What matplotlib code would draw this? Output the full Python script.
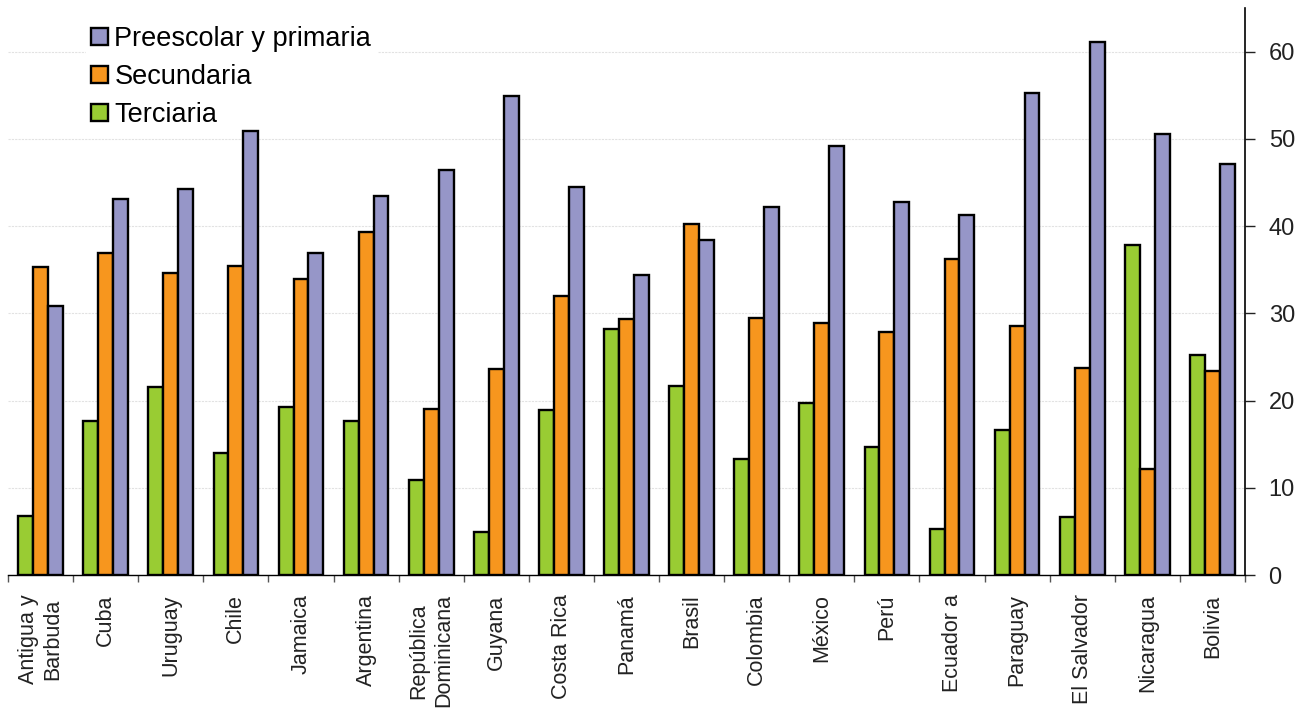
import matplotlib.pyplot as plt
import numpy as np

plt.rcParams['font.family'] = ['Liberation Sans', 'DejaVu Sans']

countries = ["Antigua y\nBarbuda", "Cuba", "Uruguay", "Chile", "Jamaica", "Argentina",
             "República\nDominicana", "Guyana", "Costa Rica", "Panamá", "Brasil", "Colombia",
             "México", "Perú", "Ecuador a", "Paraguay", "El Salvador", "Nicaragua", "Bolivia"]
terciaria = [6.8, 17.6, 21.6, 14.0, 19.3, 17.6, 10.9, 4.9, 18.9, 28.2, 21.7, 13.3,
             19.7, 14.7, 5.3, 16.6, 6.7, 37.8, 25.2]
secundaria = [35.3, 36.9, 34.6, 35.4, 33.9, 39.3, 19.0, 23.6, 32.0, 29.3, 40.2, 29.5,
              28.9, 27.8, 36.2, 28.5, 23.7, 12.1, 23.4]
primaria = [30.8, 43.1, 44.3, 50.9, 36.9, 43.4, 46.4, 54.9, 44.5, 34.4, 38.4, 42.2,
            49.2, 42.8, 41.3, 55.3, 61.1, 50.6, 47.1]

green = '#99CC33'
orange = '#F7961E'
purple = '#9696C8'

fig = plt.figure(figsize=(13.02, 7.09), dpi=100)
ax = fig.add_axes([8/1302, 1 - 575/709, (1245 - 8)/1302, (575 - 8)/709])

x = np.arange(len(countries))
w = 0.229
ax.bar(x - w, terciaria, w, color=green, edgecolor='black', linewidth=1.7, label='Terciaria', zorder=3)
ax.bar(x, secundaria, w, color=orange, edgecolor='black', linewidth=1.7, label='Secundaria', zorder=3)
ax.bar(x + w, primaria, w, color=purple, edgecolor='black', linewidth=1.7,
       label='Preescolar y primaria', zorder=3)

ax.set_xlim(-0.5, len(countries) - 0.5)
ax.set_ylim(0, 65)
ax.set_yticks(range(0, 61, 10))
ax.yaxis.tick_right()
ax.tick_params(axis='y', labelsize=17, length=7, width=1, pad=10, colors='#222222')
ax.grid(axis='y', color='#e2e2e2', linestyle=(0, (2, 1)), linewidth=0.8, zorder=0)

ax.set_xticks(x)
ax.set_xticklabels(countries, rotation=90, fontsize=15.5, va='top', ha='center',
                   multialignment='center', color='#222222')
ax.tick_params(axis='x', which='major', length=0, pad=14)
ax.set_xticks(np.arange(-0.5, len(countries), 1), minor=True)
ax.tick_params(axis='x', which='minor', length=5, width=1, color='#555555')

for s in ['left', 'top']:
    ax.spines[s].set_visible(False)
ax.spines['right'].set_linewidth(1.2)
ax.spines['bottom'].set_linewidth(1.0)

handles, labels = ax.get_legend_handles_labels()
leg = ax.legend(handles[::-1], labels[::-1], loc='upper left', bbox_to_anchor=(0.063, 0.978),
                fontsize=19.5, frameon=True, fancybox=False, edgecolor='white', framealpha=1,
                handlelength=0.6, handleheight=0.6, handletextpad=0.25, labelspacing=0.45,
                borderaxespad=0.0, borderpad=0.2)
leg.set_zorder(2.5)

fig.savefig('out.png', dpi=100)
